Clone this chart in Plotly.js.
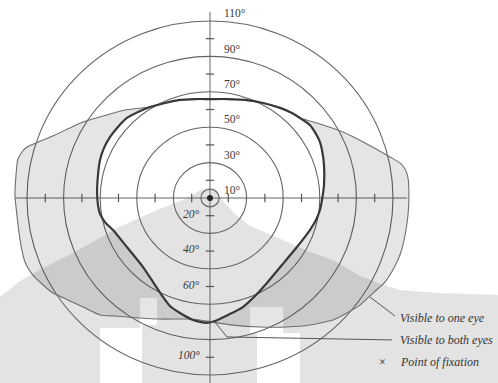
<!DOCTYPE html>
<html><head><meta charset="utf-8">
<script src="https://cdn.plot.ly/plotly-3.0.1.min.js"></script>
<style>html,body{margin:0;padding:0;background:#fff}#chart{width:498px;height:383px}</style>
</head><body><div id="chart"></div>
<script>
// ---- data (degrees of visual field) ----
const circleDeg = [5, 20, 40, 60, 80, 100];
const tickDeg = [10, 30, 50, 70, 90];
const upperLabels = ['10°', '30°', '50°', '70°', '90°', '110°'];
const upperLabelAt = [10, 30, 50, 70, 90, 110];
const lowerLabels = ['20°', '40°', '60°', '100°'];
const lowerLabelAt = [10, 30, 50, 90];
const legendLabels = ['Visible to one eye', 'Visible to both eyes', 'Point of fixation'];

// field visible to both eyes (binocular boundary)
const bothX = [-61.2,-61.7,-61.2,-60.1,-57.9,-54.6,-50.3,-45.4,-39.3,-32.8,-24.6,-16.4,-8.2,0,9.8,19.1,29.0,38.3,44.8,49.2,54.6,57.9,60.1,61.2,62.3,62.3,61.2,60.1,57.9,54.6,47.5,39.3,31.1,24.6,18.0,9.8,2.7,-1.6,-9.3,-16.4,-21.9,-25.7,-31.1,-36.6,-45.4,-53.0,-57.4,-60.1,-61.2];
const bothY = [-4.0,2.8,13.0,21.5,28.3,34.5,40.1,45.2,48.6,51.4,53.7,55.4,55.9,55.9,55.9,55.4,53.7,50.9,48.0,45.2,41.2,36.2,31.6,27.1,18.6,7.3,-1.1,-6.8,-12.4,-18.1,-27.7,-37.9,-48.0,-55.4,-61.6,-66.1,-69.5,-70.6,-68.9,-65.0,-61.0,-55.9,-47.5,-39.0,-27.7,-18.1,-13.6,-9.0,-4.0];

// outer limit of the field visible to one eye
const oneX = [-32.8,-24.6,-16.4,-8.2,0,9.8,19.1,29.0,38.3,44.8,49.2,60.1,72.7,84.7,98.4,103.8,106.6,108.2,108.7,108.2,106.6,104.4,100.5,95.6,89.1,82.0,73.8,67.2,54.6,42.1,27.3,12.6,1.6,-5.5,-12.6,-27.3,-38.3,-51.9,-60.1,-69.4,-77.6,-85.8,-91.8,-97.3,-101.1,-103.8,-105.5,-106.6,-106.0,-105.1,-102.7,-100.0,-84.7,-69.4,-54.6,-46.4,-32.8];
const oneY = [51.4,53.7,55.4,55.9,55.9,55.9,55.4,53.7,50.9,48.0,45.2,41.8,37.3,31.1,23.2,19.8,16.4,11.3,1.7,-9.6,-20.9,-30.5,-39.6,-47.5,-53.7,-60.5,-65.5,-68.9,-71.8,-72.9,-72.9,-71.8,-70.1,-68.9,-68.4,-68.4,-67.8,-66.7,-66.1,-61.6,-57.6,-53.7,-48.6,-42.9,-36.2,-23.7,-9.6,1.7,13.0,21.5,26.0,28.8,35.6,42.9,47.5,49.7,51.4];

// ---- decoration: scanned-page watermark outline (pixels) ----
const W = 498, H = 383;
const wmPx = [[0,297],[20,281],[43,268],[67,256],[100,238],[117,228],[157,210],[190,197],[200,190],[215,188],[222,200],[235,214],[250,226],[283,240],[310,252],[333,260],[360,276],[387,286],[400,290],[440,293],[498,295],[498,383],
  [300,383],[300,333],[283,333],[283,307],[250,307],[250,333],[257,333],[257,383],
  [142,383],[142,325],[157,325],[157,298],[140,298],[140,328],[100,328],[100,383],[0,383]];
const wmPath = 'M' + wmPx.map(p => (p[0]/W).toFixed(4) + ',' + (1 - p[1]/H).toFixed(4)).join('L') + 'Z';

const lineGray = '#646464';
const shapes = [
  {type:'path', xref:'paper', yref:'paper', path: wmPath, fillcolor:'rgba(0,0,0,0.11)', line:{width:0}, layer:'below'},
  {type:'line', xref:'x', yref:'y', x0:-106.6, x1:107.7, y0:0, y1:0, line:{color:lineGray, width:1}, layer:'below'},
  {type:'line', xref:'x', yref:'y', x0:0, x1:0, y0:-112, y1:105, line:{color:lineGray, width:1}, layer:'below'}
];
circleDeg.forEach(r => shapes.push({type:'circle', xref:'x', yref:'y', x0:-r, x1:r, y0:-r, y1:r, line:{color:lineGray, width:1.1}, layer:'below'}));
// leader lines
shapes.push({type:'line', xref:'x', yref:'y', x0:87.4, y0:-55.9, x1:101.1, y1:-66.7, line:{color:'#555', width:1}});
shapes.push({type:'path', xref:'x', yref:'y', path:'M2.7,-70.1 L9.3,-78.5 L99.4,-80.2', line:{color:'#555', width:1}});

const tickColor = '#555';
const traces = [
  {x: oneX, y: oneY, mode:'lines', line:{color:'#6e6e6e', width:1.1, shape:'spline', smoothing:0.5}, hoverinfo:'skip'},
  {x: bothX, y: bothY, mode:'lines', fill:'tonext', fillcolor:'rgba(0,0,0,0.10)', line:{color:'#383838', width:2.2, shape:'spline', smoothing:0.6}, hoverinfo:'skip'},
  {x: tickDeg.concat(tickDeg.map(v => -v)), y: tickDeg.map(() => 0).concat(tickDeg.map(() => 0)), mode:'markers', marker:{symbol:'line-ns-open', size:6, color:tickColor, line:{color:tickColor, width:1.2}}, hoverinfo:'skip'},
  {x: tickDeg.map(() => 0).concat(tickDeg.map(() => 0)), y: tickDeg.concat(tickDeg.map(v => -v)), mode:'markers', marker:{symbol:'line-ew-open', size:6, color:tickColor, line:{color:tickColor, width:1.2}}, hoverinfo:'skip'},
  {x:[0], y:[0], mode:'markers', marker:{symbol:'circle', size:6, color:'#222'}, hoverinfo:'skip'}
];

const serif = 'Liberation Serif';
const annotations = [];
upperLabels.forEach((t, i) => annotations.push({x:0, y:upperLabelAt[i], xref:'x', yref:'y', text:t, showarrow:false, xanchor:'left', yanchor:'middle', xshift:12, yshift:-10, font:{family:serif, size:11.5, color:'#3a3a3a'}}));
lowerLabels.forEach((t, i) => annotations.push({x:0, y:-lowerLabelAt[i], xref:'x', yref:'y', text:'<i>' + t + '</i>', showarrow:false, xanchor:'right', yanchor:'middle', xshift:-8, yshift:2, font:{family:serif, size:11.5, color:'#3a3a3a'}}));
const legendY = [-67.8, -80.2, -92.7];
legendLabels.forEach((t, i) => annotations.push({x:102.7, y:legendY[i], xref:'x', yref:'y', text:'<i>' + t + '</i>', showarrow:false, xanchor:'left', yanchor:'middle', font:{family:serif, size:12, color:'#333'}}));
annotations.push({x:94.5, y:-92.7, xref:'x', yref:'y', text:'×', showarrow:false, xanchor:'center', yanchor:'middle', font:{family:serif, size:12, color:'#222'}});

const layout = {
  width: W, height: H,
  margin: {l:0, r:0, t:0, b:0},
  paper_bgcolor:'#fff', plot_bgcolor:'#fff',
  showlegend:false,
  font:{family:serif},
  xaxis:{range:[-114.75, 157.38], visible:false, fixedrange:true},
  yaxis:{range:[-104.52, 111.86], visible:false, fixedrange:true},
  shapes: shapes,
  annotations: annotations
};
Plotly.newPlot('chart', traces, layout, {displayModeBar:false, staticPlot:true});
</script></body></html>
